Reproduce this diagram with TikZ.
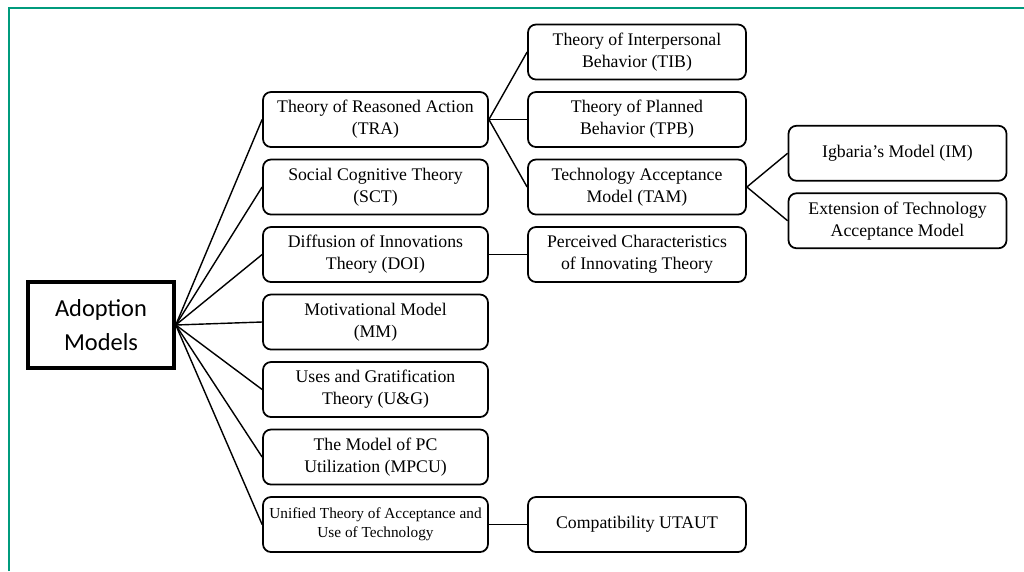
\documentclass[tikz,border=0pt]{standalone}
\usepackage{fontspec}
\setmainfont{Liberation Serif}
\newfontfamily\calibrifont{Carlito}
\usetikzlibrary{positioning}
\definecolor{framegreen}{RGB}{0,155,125}

\begin{document}
\begin{tikzpicture}[node distance=1.35cm,on grid,
                    model/.style={draw,line width=1pt,rounded corners=0.16cm,
                      minimum width=4.5cm,minimum height=1.1cm,align=center,
                      font=\fontsize{10.1}{12.4}\selectfont},
                    submodel/.style={model,minimum width=4.36cm},
                    conn/.style={line width=0.8pt}]
      \useasboundingbox (0,0) rectangle (20.48,-11.42);
      \draw[framegreen,line width=1.2pt] (0.18,-11.42) -- (0.18,-0.16) -- (20.48,-0.16);

      \node[draw,line width=2pt,minimum width=2.92cm,minimum height=1.72cm,align=center,
            font=\calibrifont\fontsize{13.9}{19.8}\selectfont] (adopt) at (2.02,-6.5) {Adoption\\Models};

      \node[model] (mm) [right=5.49cm of adopt,yshift=0.06cm] {Motivational Model\\(MM)};
      \node[model] (doi) [above=of mm] {Diffusion of Innovations\\Theory (DOI)};
      \node[model] (sct) [above=of doi] {Social Cognitive Theory\\(SCT)};
      \node[model] (tra) [above=of sct] {Theory of Reasoned Action\\(TRA)};
      \node[model] (ug) [below=of mm] {Uses and Gratification\\Theory (U\&G)};
      \node[model] (mpcu) [below=of ug] {The Model of PC\\Utilization (MPCU)};
      \node[model,inner xsep=1pt,font=\fontsize{8.7}{10.6}\selectfont] (utaut) [below=of mpcu]
            {Unified Theory of Acceptance and\\Use of Technology};

      \node[submodel] (tpb) [right=5.23cm of tra] {Theory of Planned\\Behavior (TPB)};
      \node[submodel] (tib) [above=of tpb] {Theory of Interpersonal\\Behavior (TIB)};
      \node[submodel] (tam) [right=5.23cm of sct] {Technology Acceptance\\Model (TAM)};
      \node[submodel] (pcit) [right=5.23cm of doi] {Perceived Characteristics\\of Innovating Theory};
      \node[submodel] (compat) [right=5.23cm of utaut] {Compatibility UTAUT};

      \node[submodel] (im) [above right=0.675cm and 5.21cm of tam] {Igbaria's Model (IM)};
      \node[submodel] (ext) [below right=0.675cm and 5.21cm of tam] {Extension of Technology\\Acceptance Model};

      \path[conn] (adopt.east) edge (tra.west) edge (sct.west) edge (doi.west) edge (mm.west)
                               edge (ug.west) edge (mpcu.west) edge (utaut.west);
      \path[conn] (tra.east) edge (tib.west) edge (tpb.west) edge (tam.west);
      \path[conn] (tam.east) edge (im.west) edge (ext.west);
      \path[conn] (doi) edge (pcit);
      \path[conn] (utaut) edge (compat);
    \end{tikzpicture}
\end{document}
